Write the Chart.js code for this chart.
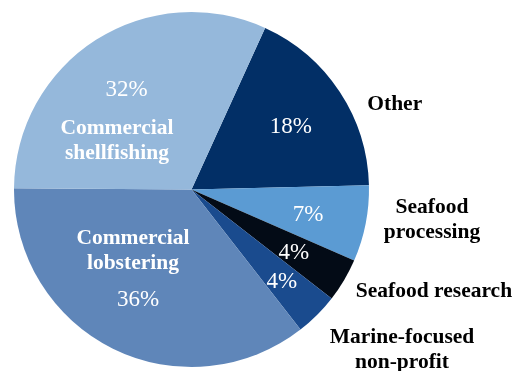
<!DOCTYPE html>
<html>
<head>
<meta charset="utf-8">
<script src="https://cdn.jsdelivr.net/npm/chart.js@4"></script>
<style>
  html, body { margin: 0; padding: 0; background: #ffffff; }
  #wrap { width: 528px; height: 371px; }
  .warm { position: absolute; left: -999px; font-family: 'Liberation Serif'; }
</style>
</head>
<body>
<span class="warm">32% <b>Other</b></span>
<div id="wrap"><canvas id="myChart" width="528" height="371"></canvas></div>
<script>
// slices, clockwise from the "Other" wedge
const categories = [
  "Other",
  "Seafood processing",
  "Seafood research",
  "Marine-focused non-profit",
  "Commercial lobstering",
  "Commercial shellfishing",
];
const shares = [18, 7, 4, 4, 36, 32];
const sliceColors = ["#022f66", "#5b9bd3", "#030b16", "#1a4b8e", "#5f86b9", "#95b8db"];

// where each text block sits: name lines, name position (in radii from centre),
// name colour, and how far out the percentage goes along the wedge middle
const labelLayout = [
  { lines: ["Other"], dx: 1.145, dy: -0.495, color: "#000000", pct: 0.67 },
  { lines: ["Seafood", "processing"], dx: 1.355, dy: 0.158, color: "#000000", pct: 0.67 },
  { lines: ["Seafood research"], dx: 1.366, dy: 0.563, color: "#000000", pct: 0.67 },
  { lines: ["Marine-focused", "non-profit"], dx: 1.186, dy: 0.888, color: "#000000", pct: 0.72 },
  { lines: ["Commercial", "lobstering"], dx: -0.33, dy: 0.33, color: "#ffffff", pct: 0.68 },
  { lines: ["Commercial", "shellfishing"], dx: -0.42, dy: -0.29, color: "#ffffff", pct: 0.68 },
];

const SERIF = "'Liberation Serif', 'Times New Roman', serif";
const NUDGE_Y = 2.5; // "middle" baseline sits a little high for this face

const sliceLabels = {
  id: "sliceLabels",
  afterDatasetsDraw(chart) {
    const c = chart.ctx;
    const arcs = chart.getDatasetMeta(0).data;
    c.save();
    c.textAlign = "center";
    c.textBaseline = "middle";
    arcs.forEach((arc, i) => {
      const lay = labelLayout[i];
      const r = arc.outerRadius;
      const mid = (arc.startAngle + arc.endAngle) / 2;

      // percentage inside the wedge
      c.font = "23px " + SERIF;
      c.fillStyle = "#ffffff";
      c.fillText(shares[i] + "%",
        arc.x + Math.cos(mid) * r * lay.pct,
        arc.y + Math.sin(mid) * r * lay.pct + NUDGE_Y);

      // category name
      c.font = "bold 21.5px " + SERIF;
      c.fillStyle = lay.color;
      const cx = arc.x + lay.dx * r;
      const cy = arc.y + lay.dy * r + NUDGE_Y;
      const lh = 25;
      lay.lines.forEach((t, k) => {
        c.fillText(t, cx, cy + (k - (lay.lines.length - 1) / 2) * lh);
      });
    });
    c.restore();
  },
};

function draw() {
  const ctx = document.getElementById("myChart").getContext("2d");
  new Chart(ctx, {
    type: "pie",
    data: {
      labels: categories,
      datasets: [
        {
          data: shares,
          backgroundColor: sliceColors,
          borderWidth: 0,
        },
      ],
    },
    options: {
      responsive: false,
      animation: false,
      rotation: 24.5,
      layout: {
        padding: { left: 14, right: 159, top: 12, bottom: 4 },
      },
      plugins: {
        legend: { display: false },
        tooltip: { enabled: false },
      },
    },
    plugins: [sliceLabels],
  });
}

Promise.all([
  document.fonts.load("23px 'Liberation Serif'"),
  document.fonts.load("bold 21px 'Liberation Serif'"),
]).then(draw, draw);
</script>
</body>
</html>
